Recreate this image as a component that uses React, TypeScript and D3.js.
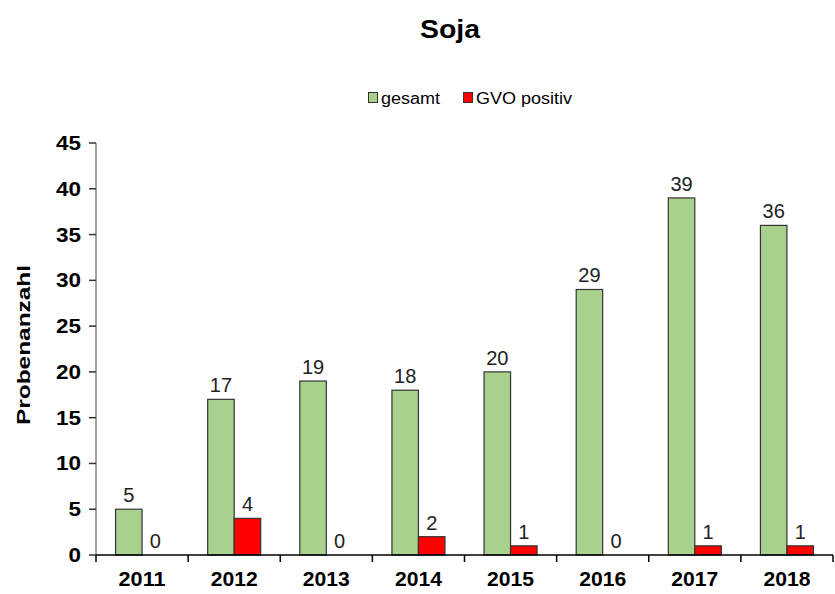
import React from 'react';
import * as d3 from 'd3';

const years = ['2011', '2012', '2013', '2014', '2015', '2016', '2017', '2018'];
const gesamt = [5, 17, 19, 18, 20, 29, 39, 36];
const gvoPositiv = [0, 4, 0, 2, 1, 0, 1, 1];
const yTicks = [0, 5, 10, 15, 20, 25, 30, 35, 40, 45];

const series = [
  { name: 'gesamt', values: gesamt, color: '#a9d18e' },
  { name: 'GVO positiv', values: gvoPositiv, color: '#ff0000' },
];

const W = 835;
const H = 594;
const left = 96;
const right = 833;
const top = 143;
const bottom = 555;
const font = 'Arial, "Liberation Sans", sans-serif';

const App: React.FC = () => {
  const x = d3.scaleBand<string>().domain(years).range([left, right]);
  const barW = 26.5;
  const y = d3.scaleLinear().domain([0, 45]).range([bottom, top]);

  return (
    <svg width={W} height={H} style={{ position: 'absolute', left: 0, top: 0 }} fontFamily={font}>
      <rect width={W} height={H} fill="#fff" />
      <text x={450} y={38} textAnchor="middle" fontSize={25} fontWeight="bold" fill="#000"
        textLength={60} lengthAdjust="spacingAndGlyphs">Soja</text>

      {/* legend */}
      <g fontSize={16} fill="#000">
        <rect x={368.5} y={92.5} width={9} height={10} fill={series[0].color} stroke="#333" />
        <text x={381} y={104} textLength={59} lengthAdjust="spacingAndGlyphs">gesamt</text>
        <rect x={463.5} y={92.5} width={9} height={10} fill={series[1].color} stroke="#333" />
        <text x={476} y={104} textLength={96} lengthAdjust="spacingAndGlyphs">GVO positiv</text>
      </g>

      {/* y axis */}
      <line x1={left} x2={left} y1={top} y2={bottom} stroke="#888" strokeWidth={1.5} />
      {yTicks.map(t => (
        <g key={t}>
          <line x1={left - 7} x2={left} y1={y(t)} y2={y(t)} stroke="#333" strokeWidth={1.5} />
          <text x={81} y={y(t) + 7} textAnchor="end" fontSize={19.5} fontWeight="bold" fill="#000"
            textLength={t < 10 ? 12.5 : 25} lengthAdjust="spacingAndGlyphs">{t}</text>
        </g>
      ))}
      <text transform={`translate(30,345) rotate(-90)`} textAnchor="middle"
        fontSize={19} fontWeight="bold" fill="#000" textLength={160} lengthAdjust="spacingAndGlyphs">Probenanzahl</text>

      {/* bars */}
      {years.map((yr, i) => {
        const cx = (x(yr) || 0) + x.bandwidth() / 2;
        return (
          <g key={yr}>
            {series.map((s, j) => {
              const v = s.values[i];
              const bx = cx - barW + j * barW;
              return (
                <g key={s.name}>
                  {v > 0 && (
                    <rect x={bx} y={y(v)} width={barW} height={bottom - y(v)}
                      fill={s.color} stroke="#333" strokeWidth={1.2} />
                  )}
                  <text x={bx + barW / 2} y={y(v) - 7} textAnchor="middle" fontSize={20} fill="#222">{v}</text>
                </g>
              );
            })}
            <text x={cx} y={586} textAnchor="middle" fontSize={20} fontWeight="bold" fill="#000"
              textLength={47} lengthAdjust="spacingAndGlyphs">{yr}</text>
          </g>
        );
      })}

      {/* x axis */}
      <line x1={left} x2={right} y1={bottom} y2={bottom} stroke="#000" strokeWidth={1.5} />
      {years.map((yr, i) => {
        const tx = i === 0 ? left : (x(yr) || 0);
        return <line key={yr} x1={tx} x2={tx} y1={bottom} y2={bottom + 7} stroke="#000" strokeWidth={1.5} />;
      })}
      <line x1={right} x2={right} y1={bottom} y2={bottom + 7} stroke="#000" strokeWidth={1.5} />
    </svg>
  );
};

export default App;
